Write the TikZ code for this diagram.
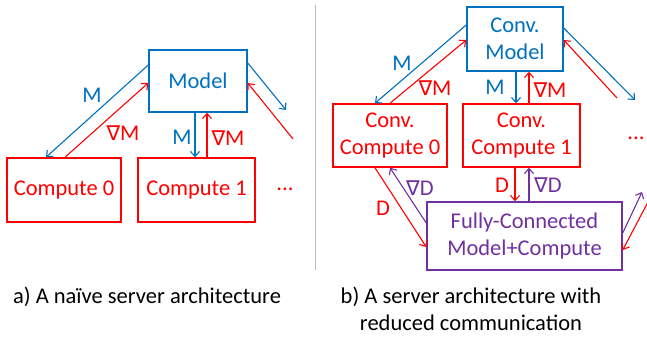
\documentclass[tikz,border=0pt]{standalone}
\usepackage{fontspec}
\setmainfont{Carlito}
\newfontfamily\djv{DejaVu Sans}
\usetikzlibrary{arrows.meta,calc}
\definecolor{oblue}{RGB}{0,112,192}
\definecolor{ored}{RGB}{255,0,0}
\definecolor{opurple}{RGB}{112,48,160}
\definecolor{sepgray}{RGB}{191,191,191}
\newcommand{\nab}{{\djv\fontsize{20.5}{22}\selectfont ∇}}
\begin{document}
\begin{tikzpicture}[x=1pt,y=-1pt,
  font=\fontsize{22.5}{27}\selectfont,
  box/.style={draw, line width=1.5pt, inner sep=0pt, align=center},
  bluebox/.style={box, draw=oblue, text=oblue},
  redbox/.style={box, draw=ored, text=ored},
  purplebox/.style={box, draw=opurple, text=opurple},
  arr/.style={line width=1.1pt, -{Straight Barb[length=5pt,width=9pt]}},
  lab/.style={inner sep=0pt, anchor=center}]
\useasboundingbox (0,0) rectangle (647,339);
% separator
\draw[sepgray, line width=1pt] (315,5) coordinate (s1) -- (315,270) coordinate (s2);

% ---------- left panel ----------
\node[bluebox, minimum width=98, minimum height=62] (model) at (198,81) {Model};
\node[redbox, minimum width=114, minimum height=64] (c0) at (64,190) {Compute 0};
\node[redbox, minimum width=117, minimum height=64] (c1) at (196.5,190) {Compute 1};
\node[lab, text=ored] (dotsa) at (285,189) {...};

\draw[arr, oblue] ($(model.west)+(0,-16)$) -- ($(c0.north)+(-18,0)$);
\draw[arr, ored] ($(c0.north)+(1,0)$) -- ($(model.west)+(0,2)$);
\draw[arr, oblue] ($(model.south)+(-3,0)$) -- ($(c1.north)+(-1.5,0)$);
\draw[arr, ored] ($(c1.north)+(10.5,0)$) -- ($(model.south)+(9,0)$);
\coordinate (ra1) at (286,110);
\coordinate (ra2) at (293,139);
\draw[arr, oblue] ($(model.east)+(0,-18)$) -- (ra1);
\draw[arr, ored] (ra2) -- ($(model.east)+(0,2)$);

\node[lab, text=oblue] (lm1) at (92,95) {M};
\node[lab, text=ored] (lg1) at (123,133) {\nab M};
\node[lab, text=oblue] (lm2) at (182,137) {M};
\node[lab, text=ored] (lg2) at (228,138) {\nab M};

% ---------- right panel ----------
\node[bluebox, minimum width=96, minimum height=64] (cm) at (515,39) {Conv.\\Model};
\node[redbox, minimum width=114, minimum height=63] (cc0) at (390,135.5) {Conv.\\Compute 0};
\node[redbox, minimum width=117, minimum height=63] (cc1) at (521.5,135.5) {Conv.\\Compute 1};
\node[purplebox, minimum width=195, minimum height=68] (fc) at (524.5,236) {Fully-Connected\\Model+Compute};
\node[lab, text=ored] (dotsb) at (636,138) {...};

\draw[arr, oblue] ($(cm.west)+(0,-14)$) -- ($(cc0.north)+(-15,0)$);
\draw[arr, ored] ($(cc0.north)+(0,0)$) -- ($(cm.west)+(0,1)$);
\draw[arr, oblue] ($(cm.south)+(1,0)$) -- ($(cc1.north)+(-5.5,0)$);
\draw[arr, ored] ($(cc1.north)+(7.5,0)$) -- ($(cm.south)+(14,0)$);
\coordinate (rb1) at (635,100);
\coordinate (rb2) at (617,98);
\draw[arr, oblue] ($(cm.east)+(0,-11)$) -- (rb1);
\draw[arr, ored] (rb2) -- ($(cm.east)+(0,1)$);

\node[lab, text=oblue] (lm3) at (402,63) {M};
\node[lab, text=ored] (lg3) at (435,88) {\nab M};
\node[lab, text=oblue] (lm4) at (495,87) {M};
\node[lab, text=ored] (lg4) at (550,90) {\nab M};

\draw[arr, ored] ($(cc0.south)+(-15,0)$) -- ($(fc.west)+(0,11)$);
\draw[arr, opurple] ($(fc.west)+(0,-13)$) -- ($(cc0.south)+(0,0)$);
\draw[arr, ored] ($(cc1.south)+(-6.5,0)$) -- ($(fc.north)+(-9.5,0)$);
\draw[arr, opurple] ($(fc.north)+(4.5,0)$) -- ($(cc1.south)+(7.5,0)$);
\coordinate (rc1) at (642,192);
\coordinate (rc2) at (648,202);
\draw[arr, opurple] ($(fc.east)+(0,-3)$) -- (rc1);
\draw[arr, ored] (rc2) -- ($(fc.east)+(0,14)$);

\node[lab, text=ored] (ld1) at (383,208) {D};
\node[lab, text=opurple] (lgd1) at (420,188) {\nab D};
\node[lab, text=ored] (ld2) at (502,185) {D};
\node[lab, text=opurple] (lgd2) at (548,185) {\nab D};

% ---------- captions ----------
\node[lab] (capa) at (147,297) {a) A naïve server architecture};
\node[lab, align=center] (capb) at (471,309) {b) A server architecture with\\reduced communication};
\end{tikzpicture}
\end{document}
